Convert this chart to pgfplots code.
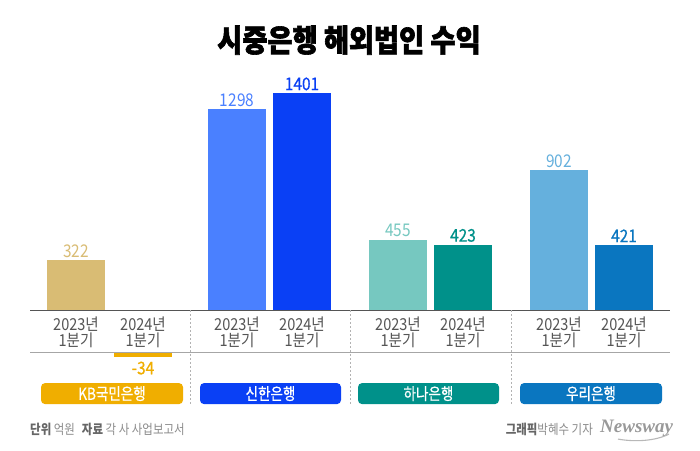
\documentclass[border=0pt]{standalone}
\usepackage{pgfplots}
\pgfplotsset{compat=1.18}
\usepackage{fontspec}
\setmainfont{Noto Sans CJK KR}
\newfontfamily\kr[FakeStretch=0.88]{Noto Sans CJK KR}
\newfontfamily\krm[FakeStretch=0.88,FakeBold=0.5]{Noto Sans CJK KR}
\newfontfamily\krc[FakeStretch=0.82,FakeBold=0.6]{Noto Sans CJK KR}
\newfontfamily\krf[FakeStretch=0.85]{Noto Sans CJK KR}
\newfontfamily\krt[FakeStretch=0.88,FakeBold=2]{Noto Sans CJK KR}
\newfontfamily\nw{Liberation Serif}
\definecolor{KBa}{HTML}{D9BC74}
\definecolor{KBb}{HTML}{F0AE00}
\definecolor{SHa}{HTML}{4A80FF}
\definecolor{SHb}{HTML}{0A40F5}
\definecolor{HNa}{HTML}{76C8C0}
\definecolor{HNb}{HTML}{00918A}
\definecolor{WRa}{HTML}{65B0DD}
\definecolor{WRb}{HTML}{0A76C0}
\definecolor{tickgray}{HTML}{555555}
\pgfplotsset{
  mybar/.style={ybar, bar width=58, bar shift=0pt, draw=none, fill=#1,
    nodes near coords,
    every node near coord/.append style={text=#1}},
  light/.style={every node near coord/.append style={font=\kr\fontsize{17.5}{17.5}\selectfont}},
  med/.style={every node near coord/.append style={font=\krm\fontsize{17.5}{17.5}\selectfont}},
}
\begin{document}
\begin{tikzpicture}[x=1pt,y=1pt]
\fill[white] (0,0) rectangle (700,450);
\begin{axis}[
  at={(0pt,140pt)}, anchor=south west,
  scale only axis, width=700pt, height=310pt,
  xmin=0, xmax=700, ymin=0, ymax=2001.4,
  axis line style={draw=none},
  ytick=\empty,
  xtick={76,143,237,302,398,463,559,624},
  xticklabels={2023년\\1분기,2024년\\1분기,2023년\\1분기,2024년\\1분기,2023년\\1분기,2024년\\1분기,2023년\\1분기,2024년\\1분기},
  x tick label style={font=\kr\fontsize{16.5}{16}\selectfont, text=tickgray, align=center, yshift=-3pt},
  major tick length=0pt,
  clip=false,
  every node near coord/.append style={anchor=south, inner sep=2.5pt},
  /pgf/number format/1000 sep={},
  /pgf/number format/assume math mode=true,
]
\addplot[mybar=KBa, light] coordinates {(76,322)};
\addplot[mybar=SHa, light] coordinates {(237,1298)};
\addplot[mybar=SHb, med] coordinates {(302,1401)};
\addplot[mybar=HNa, light] coordinates {(398,455)};
\addplot[mybar=HNb, med] coordinates {(463,423)};
\addplot[mybar=WRa, light] coordinates {(559,902)};
\addplot[mybar=WRb, med] coordinates {(624,421)};
\end{axis}
\begin{axis}[
  at={(0pt,0pt)}, anchor=south west,
  scale only axis, width=700pt, height=98pt,
  xmin=0, xmax=700, ymin=-632.7, ymax=0,
  axis line style={draw=none},
  xtick=\empty, ytick=\empty,
  clip=false,
  every node near coord/.append style={anchor=north, inner sep=4pt},
  /pgf/number format/1000 sep={},
  /pgf/number format/assume math mode=true,
]
\addplot[mybar=KBb, med] coordinates {(143,-34)};
\end{axis}
% lines
\draw[line width=1.2pt, color=tickgray] (30,140) -- (670,140);
\draw[line width=1pt, color=black!35] (30,98) -- (670,98);
\foreach \xx in {190,350,511}
  \draw[dash pattern=on 2pt off 2pt, color=black!30, line width=0.6pt] (\xx,140) -- (\xx,45);
% bank boxes
\foreach \a/\b/\c/\t in {41/183/KBb/KB국민은행, 200/341/SHb/신한은행, 358/499/HNb/하나은행, 520/662/WRb/우리은행}{
  \fill[\c, rounded corners=4pt] (\a,46) rectangle (\b,67);
  \node[text=white, font=\krc\fontsize{16.5}{16.5}\selectfont, inner sep=0pt] at ({(\a+\b)/2},56.5) {\t};
}
% title
\node[font=\krt\bfseries\fontsize{31}{31}\selectfont, text=black] at (349,410) {시중은행 해외법인 수익};
% footer
\node[anchor=west, inner sep=0pt, font=\krf\fontsize{13.5}{13.5}\selectfont] at (30,21)
  {\textcolor{black!60}{\bfseries 단위} \textcolor{black!45}{억원}\hspace{7pt}\textcolor{black!60}{\bfseries 자료} \textcolor{black!45}{각 사 사업보고서}};
\node[anchor=east, inner sep=0pt, font=\krf\fontsize{13.5}{13.5}\selectfont] at (593,21)
  {\textcolor{black!60}{\bfseries 그래픽}\textcolor{black!45}{박혜수 기자}};
\node[anchor=west, inner sep=0pt, font=\nw\bfseries\itshape\fontsize{19}{19}\selectfont, text=black!40] at (600,22) {Newsway};
\draw[color=black!28, line width=1.1pt] (618,11) .. controls (635,8) and (655,9) .. (669,16);
\end{tikzpicture}
\end{document}
